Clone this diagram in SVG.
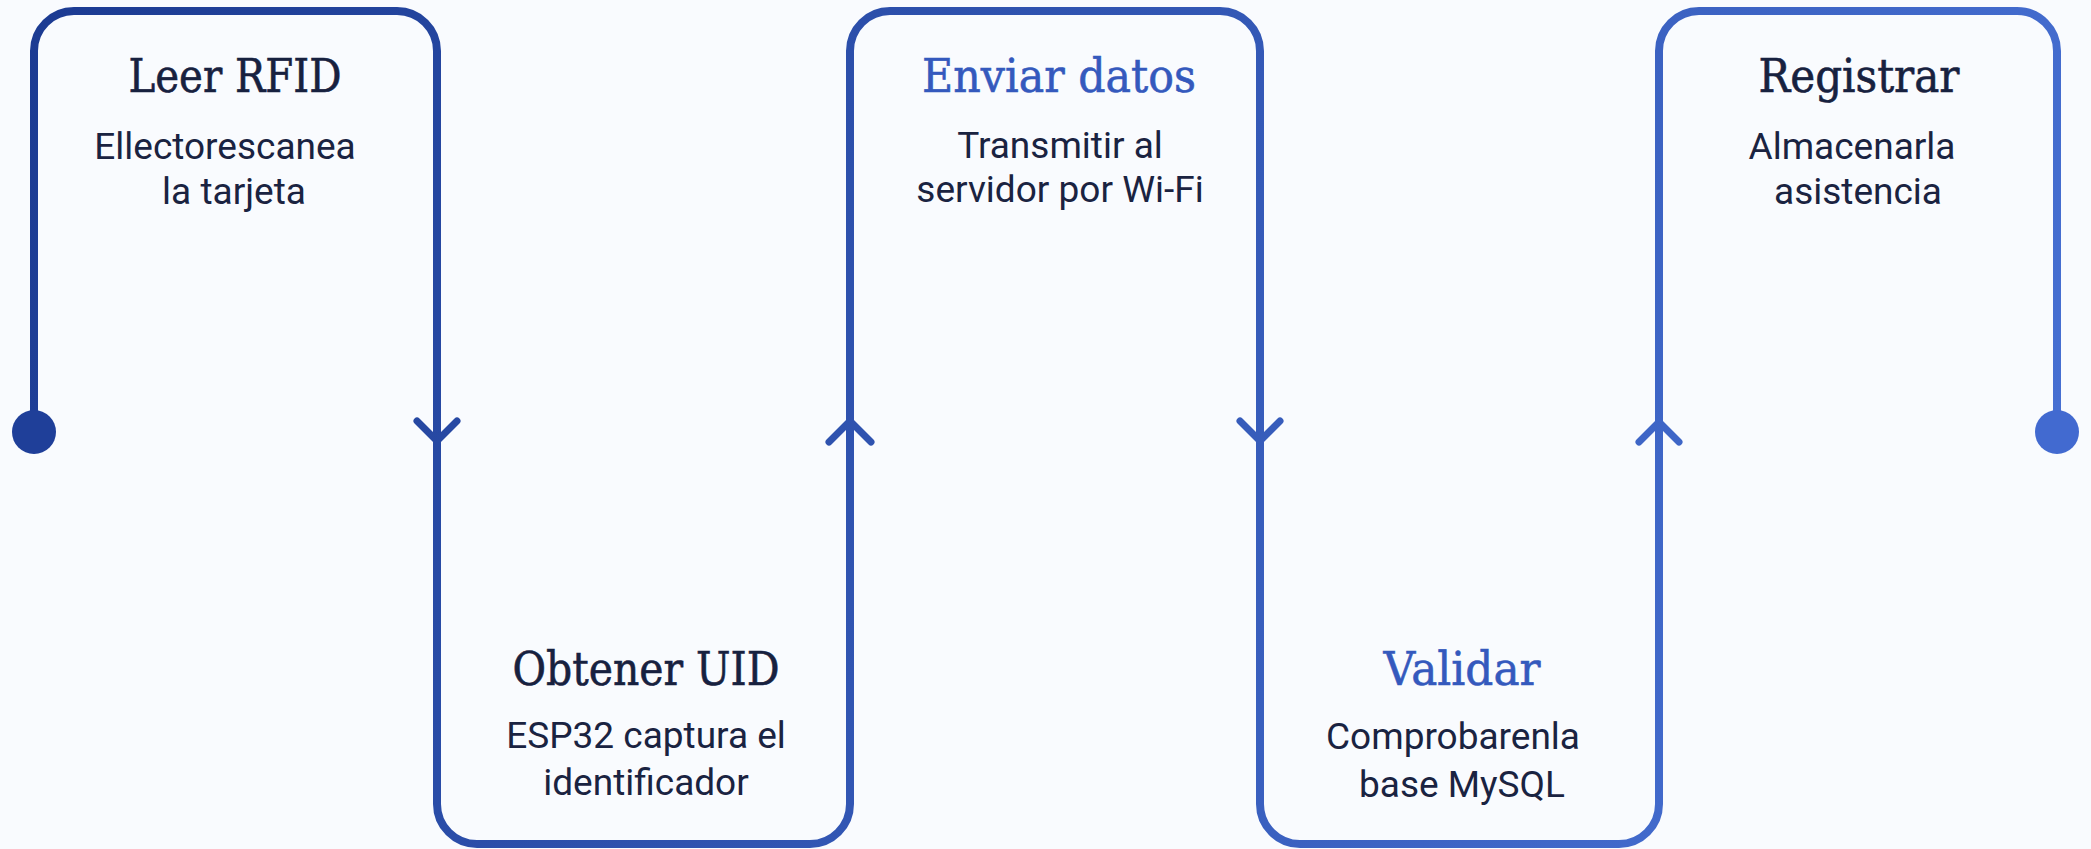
<svg xmlns="http://www.w3.org/2000/svg" width="2091" height="849" viewBox="0 0 2091 849">
  <defs>
    <linearGradient id="flow" gradientUnits="userSpaceOnUse" x1="0" y1="0" x2="2091" y2="849">
      <stop offset="0" stop-color="#1b3a91"/>
      <stop offset="1" stop-color="#4a74d8"/>
    </linearGradient>
    <style>
      .line { fill: none; stroke: url(#flow); stroke-width: 8; stroke-linejoin: round; }
      .chev { fill: none; stroke: url(#flow); stroke-width: 7; stroke-linecap: round; stroke-linejoin: round; }
      .title { font-family: "DejaVu Serif", "Liberation Serif", serif; font-size: 46px; text-anchor: middle; fill: #17213f; stroke: #17213f; stroke-width: 0.6; }
      .title.blue { fill: #3459bd; stroke: #3459bd; }
      .body { font-family: Roboto, "Liberation Sans", sans-serif; font-size: 37px; text-anchor: middle; fill: #1a2341; }
    </style>
  </defs>
  <rect width="2091" height="849" fill="#f9fbfe"/>

  <g id="connectors">
    <path class="line" d="M34,432 V51 A40,40 0 0 1 74,11 H397 A40,40 0 0 1 437,51 V804 A40,40 0 0 0 477,844 H810 A40,40 0 0 0 850,804 V51 A40,40 0 0 1 890,11 H1220 A40,40 0 0 1 1260,51 V804 A40,40 0 0 0 1300,844 H1619 A40,40 0 0 0 1659,804 V51 A40,40 0 0 1 1699,11 H2017 A40,40 0 0 1 2057,51 V432"/>
    <path class="chev" d="M417,421 L437,441 L457,421"/>
    <path class="chev" d="M829,442 L850,421 L871,442"/>
    <path class="chev" d="M1240,421 L1260,441 L1280,421"/>
    <path class="chev" d="M1639,442 L1659,422 L1679,442"/>
    <circle cx="34" cy="432" r="22" fill="#1f3f99"/>
    <circle cx="2057" cy="432" r="22" fill="#426ad0"/>
  </g>

  <g id="node-leer-rfid">
    <text class="title" x="235" y="92" textLength="213" lengthAdjust="spacingAndGlyphs">Leer RFID</text>
    <text class="body" x="225" y="159">Ellectorescanea</text>
    <text class="body" x="234" y="204">la tarjeta</text>
  </g>

  <g id="node-obtener-uid">
    <text class="title" x="646" y="685" textLength="267" lengthAdjust="spacingAndGlyphs">Obtener UID</text>
    <text class="body" x="646" y="748">ESP32 captura el</text>
    <text class="body" x="646" y="795">identificador</text>
  </g>

  <g id="node-enviar-datos">
    <text class="title blue" x="1059" y="92" textLength="274" lengthAdjust="spacingAndGlyphs">Enviar datos</text>
    <text class="body" x="1060" y="158">Transmitir al</text>
    <text class="body" x="1060" y="202">servidor por Wi-Fi</text>
  </g>

  <g id="node-validar">
    <text class="title blue" x="1462" y="685" textLength="157" lengthAdjust="spacingAndGlyphs">Validar</text>
    <text class="body" x="1453" y="749">Comprobarenla</text>
    <text class="body" x="1462" y="797">base MySQL</text>
  </g>

  <g id="node-registrar">
    <text class="title" x="1859" y="92" textLength="201" lengthAdjust="spacingAndGlyphs">Registrar</text>
    <text class="body" x="1852" y="159">Almacenarla</text>
    <text class="body" x="1858" y="204">asistencia</text>
  </g>
</svg>
